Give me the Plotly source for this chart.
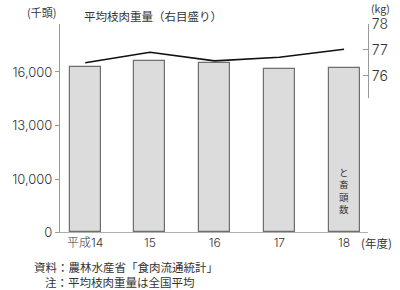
import plotly.graph_objects as go

years = ["平成14", "15", "16", "17", "18"]
heads = [16280, 16600, 16510, 16190, 16230]          # と畜頭数 (千頭)
weight = [76.51, 76.91, 76.58, 76.72, 77.03]          # 平均枝肉重量 (kg)

left_low_ticks = [0, 10000]
left_low_text = ["0", "10,000"]
left_up_ticks = [13000, 16000]
left_up_text = ["13,000", "16,000"]
right_ticks = [76, 77, 78]

FONT = "Noto Sans CJK JP"
NUMFONT = "Inter, Noto Sans CJK JP"
TXT = "#333333"
AX = "#999999"

W, H = 400, 290
ML, MR, MT, MB = 52, 30, 24, 58
PH = H - MT - MB
PW = W - ML - MR

def py(px):
    return (H - MB - px) / PH

def pxx(px):
    return (px - ML) / PW

split = py(179)

fig = go.Figure()
bar_style = dict(marker=dict(color="#dcdcdc", line=dict(color="#6e6e6e", width=1.2)),
                 width=0.48, showlegend=False, hoverinfo="skip")
fig.add_trace(go.Bar(x=list(range(len(years))), y=heads, xaxis="x", yaxis="y", **bar_style))
fig.add_trace(go.Bar(x=list(range(len(years))), y=heads, xaxis="x", yaxis="y2", **bar_style))
fig.add_trace(go.Scatter(x=list(range(len(years))), y=weight, xaxis="x", yaxis="y3",
                         mode="lines", line=dict(color="#111111", width=1.6),
                         showlegend=False, hoverinfo="skip"))

tickfont = dict(family=NUMFONT, size=13, color=TXT, weight=300)
fig.update_layout(
    width=W, height=H,
    margin=dict(l=ML, r=MR, t=MT, b=MB),
    paper_bgcolor="white", plot_bgcolor="rgba(0,0,0,0)",
    font=dict(family=FONT, color=TXT),
    bargap=0,
    xaxis=dict(range=[-0.39, 4.37], tickvals=list(range(len(years))), ticktext=years,
               showline=True, linecolor="#b0b0b0", linewidth=1, ticks="",
               showgrid=False, zeroline=False, anchor="y",
               tickfont=dict(family=NUMFONT, size=12, color=TXT, weight=300)),
    yaxis=dict(domain=[0, split], range=[0, 10000], tickvals=left_low_ticks,
               ticktext=left_low_text, showline=True, linecolor=AX, linewidth=1,
               ticks="outside", ticklen=4, tickcolor=AX, showgrid=False,
               zeroline=False, tickfont=tickfont, anchor="x"),
    yaxis2=dict(domain=[split, 1], range=[10000, 18691], tickvals=left_up_ticks,
                ticktext=left_up_text, showline=True, linecolor=AX, linewidth=1,
                ticks="outside", ticklen=4, tickcolor=AX, showgrid=False,
                zeroline=False, tickfont=tickfont, anchor="x"),
    yaxis3=dict(domain=[py(98), 1], range=[75.15, 78], tickvals=right_ticks,
                side="right", anchor="x", showline=True, linecolor=AX, linewidth=1,
                ticks="inside", ticklen=5, tickcolor=AX, showgrid=False,
                zeroline=False, tickfont=dict(family=NUMFONT, size=14, color=TXT, weight=300)),
)

ann = [
    dict(text="(千頭)", x=pxx(33), y=py(12), size=11, xanchor="center"),
    dict(text="(kg)", x=pxx(383), y=py(8), size=10.5, xanchor="center"),
    dict(text="平均枝肉重量（右目盛り）", x=pxx(75), y=py(16), size=11.5, xanchor="left"),
    dict(text="(年度)", x=pxx(397), y=py(243), size=11.5, xanchor="right"),
    dict(text="資料：農林水産省「食肉流通統計」", x=pxx(23), y=py(267), size=11.5, xanchor="left"),
    dict(text="注：平均枝肉重量は全国平均", x=pxx(34.5), y=py(282), size=11.5, xanchor="left"),
]
for a in ann:
    fig.add_annotation(text=a["text"], x=a["x"], y=a["y"], xref="paper", yref="paper",
                       xanchor=a["xanchor"], yanchor="middle",
                       showarrow=False, font=dict(family=FONT, size=a["size"], color=TXT))

fig.add_annotation(text="と<br>畜<br>頭<br>数", x=4, y=py(190), xref="x", yref="paper",
                   showarrow=False, xanchor="center", yanchor="middle",
                   font=dict(family=FONT, size=9.5, color=TXT))

fig.write_html("out.html")
